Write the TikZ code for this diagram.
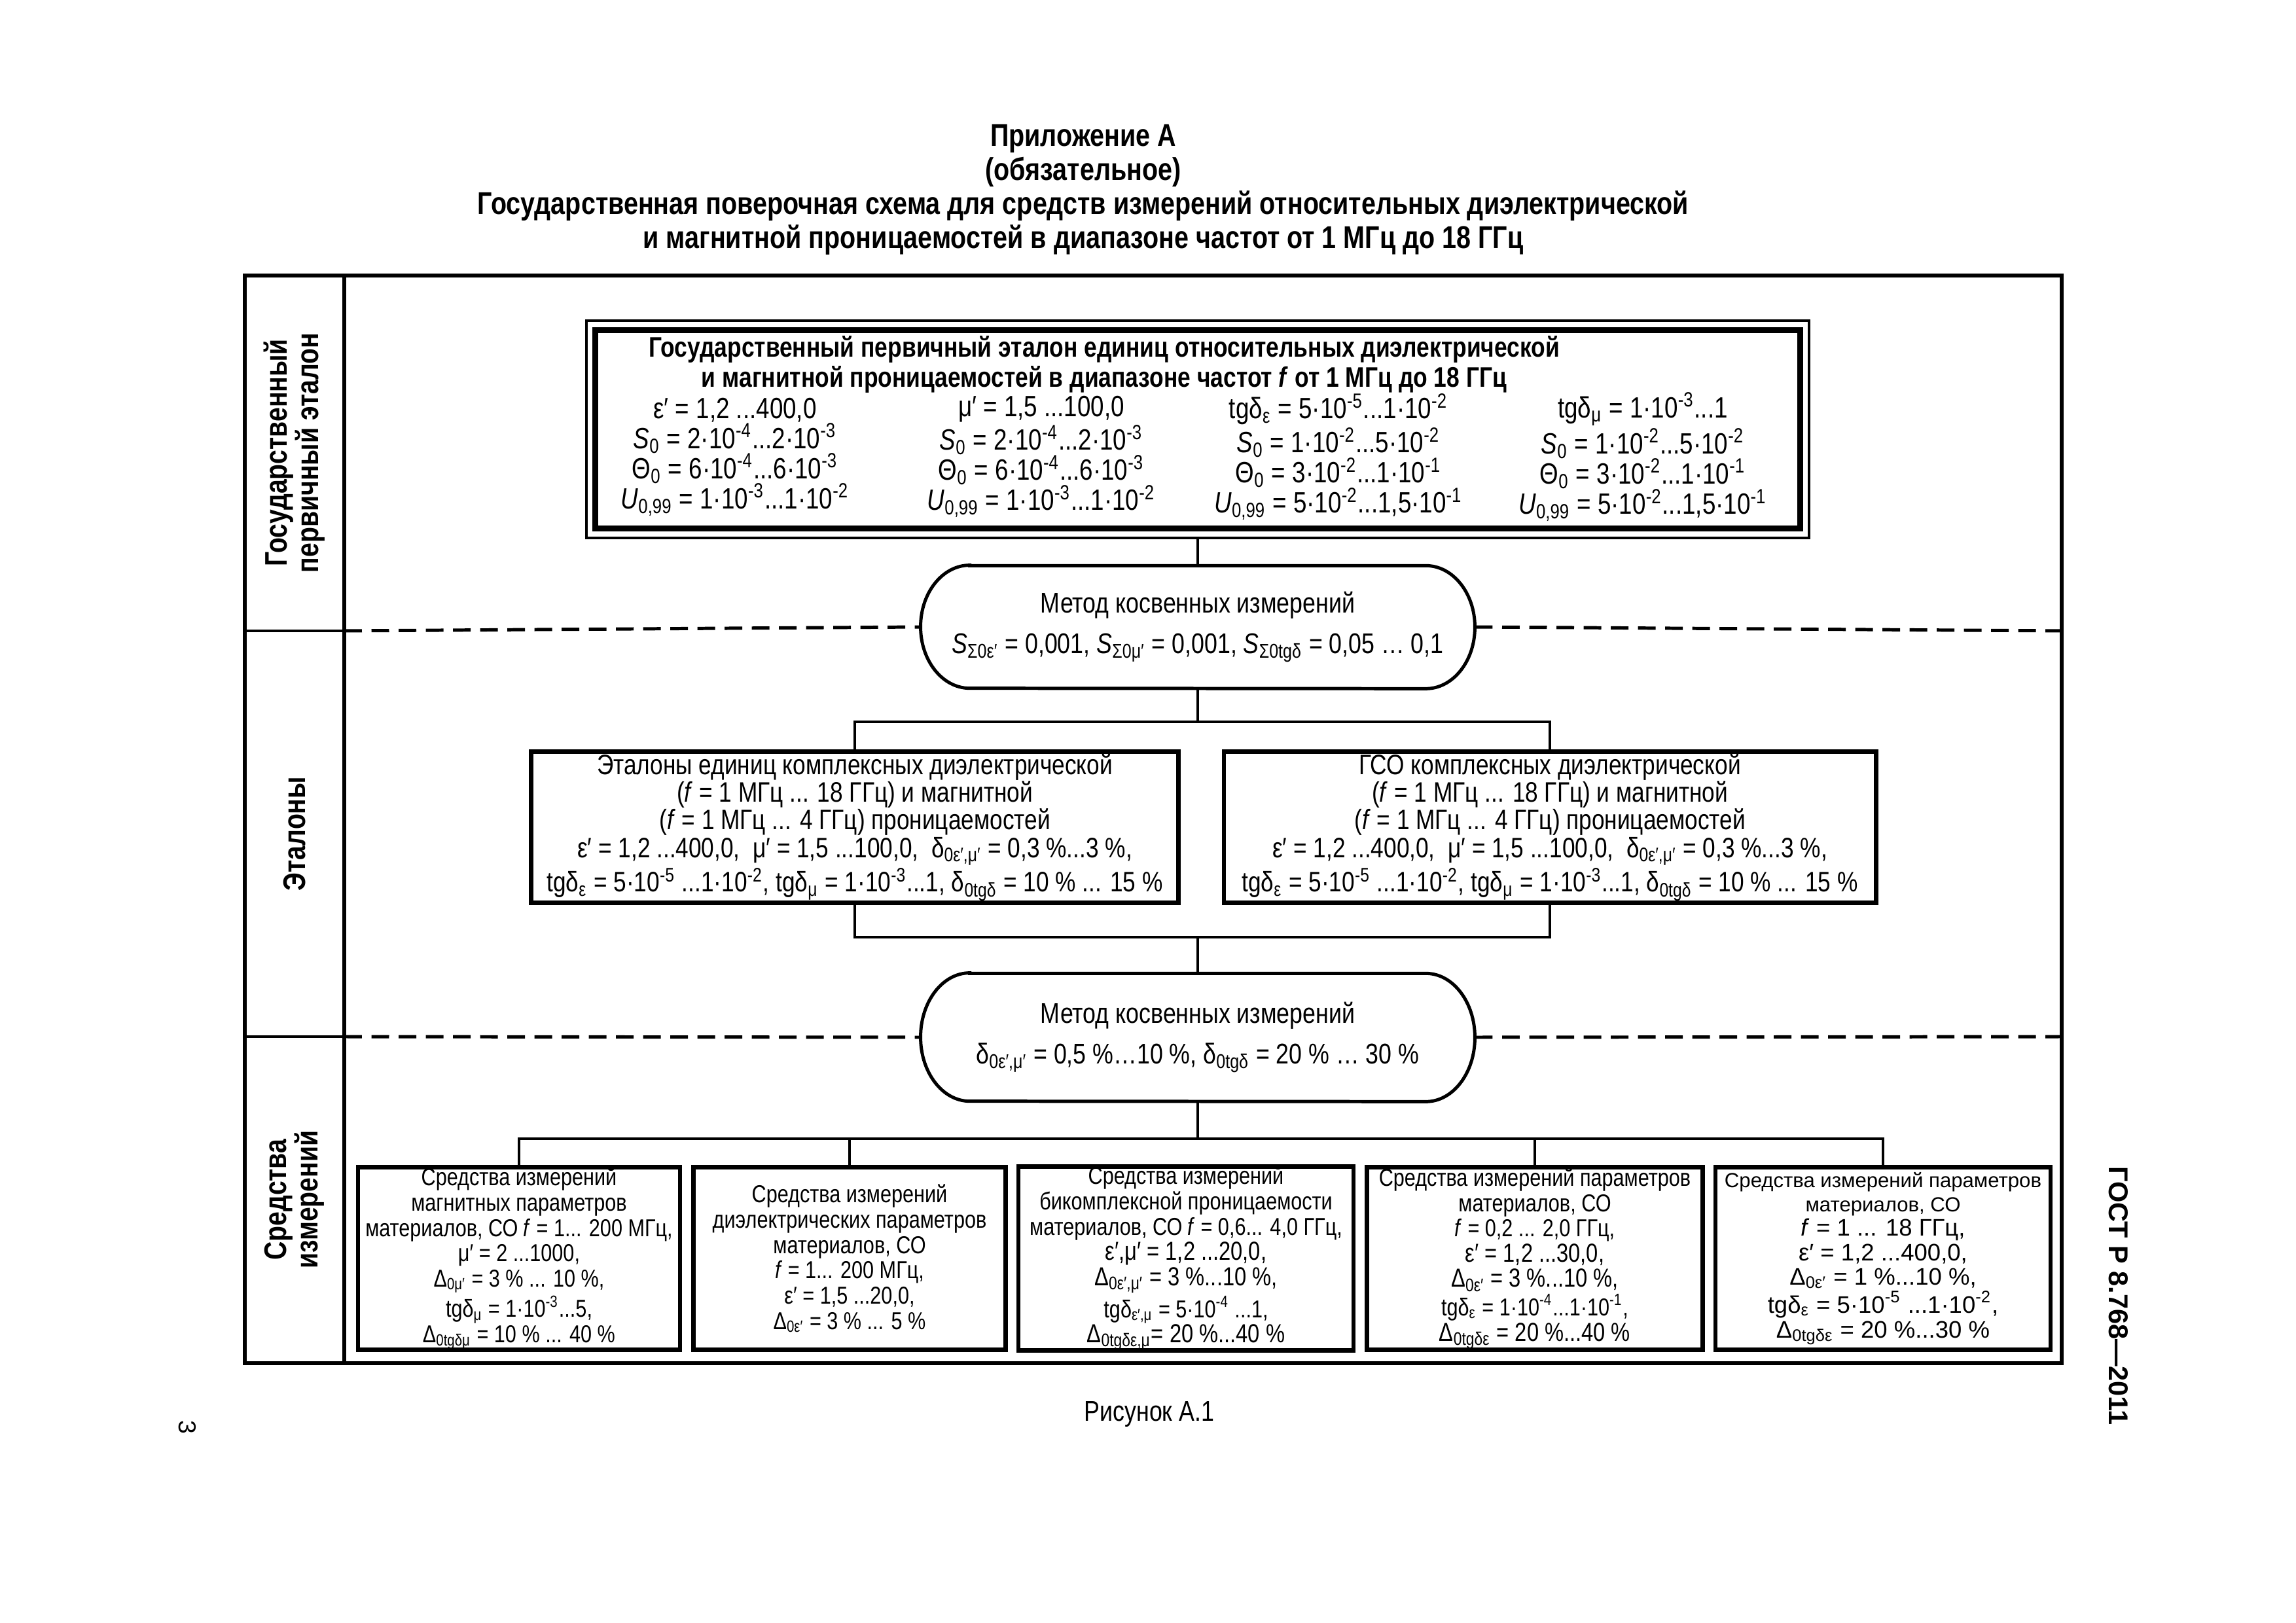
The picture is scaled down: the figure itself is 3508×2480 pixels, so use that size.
\documentclass[tikz,border=0pt]{standalone}
\usepackage{fontspec}
\setmainfont{Liberation Sans}
\newfontfamily\nar[FakeStretch=0.82]{Liberation Sans}
\usetikzlibrary{calc}
\newcommand\myd[1]{\textsubscript{#1}}
\newcommand\myu[1]{\textsuperscript{#1}}
\newcommand\biglinetxt[1]{{\fontsize{9.6}{9.3}\selectfont #1}}
\def\u{0.24004pt}
\tikzset{
  every node/.style={inner sep=0pt, outer sep=0pt},
  frame/.style={line width=1.6pt},
  sepline/.style={line width=1.1pt},
  dashline/.style={line width=1.2pt, dash pattern=on 6.5pt off 3.5pt},
  conn/.style={line width=1.1pt},
  stadline/.style={line width=1.2pt},
  titletext/.style={align=center, font={\nar\bfseries\fontsize{11.6}{12.5}\selectfont}},
  headtext/.style={align=center, font={\nar\bfseries\fontsize{10.4}{9.7}\selectfont}},
  coltext/.style={align=center, font={\nar\fontsize{10.8}{11.1}\selectfont}},
  stadtext/.style={align=center, font={\nar\fontsize{10.5}{15}\selectfont}},
  midbox/.style={draw, line width=1.6pt, align=center, minimum height=232*\u, font={\nar\fontsize{10.35}{10.2}\selectfont}},
  lowbox/.style={draw, line width=1.6pt, align=center, minimum height=280*\u, font={\nar\fontsize{9}{9.3}\selectfont}},
  sidelabel/.style={align=center, rotate=90, font={\nar\bfseries\fontsize{11.5}{11.5}\selectfont}},
}
\begin{document}
\begin{tikzpicture}[x=0.0846667mm, y=-0.0846667mm]
\useasboundingbox (0,0) rectangle (3508,2480);
% title
\node[titletext] (title) at (1655,290) {Приложение А\\(обязательное)\\Государственная поверочная схема для средств измерений относительных диэлектрической\\и магнитной проницаемостей в диапазоне частот от 1 МГц до 18 ГГц};
% frame
\draw[frame] (374,421) rectangle (3150,2083);
\draw[frame] (526,421) -- (526,2083);
% side labels
\node[sidelabel] (l1) at (450,692) {Государственный\\первичный эталон};
\node[sidelabel] (l2) at (450,1274) {Эталоны};
\node[sidelabel] (l3) at (450,1833) {Средства\\измерений};
% primary standard
\node[draw, line width=0.8pt, minimum width=1875*\u, minimum height=333*\u] (P) at (1830,656) {};
\draw[line width=2.2pt] ($(P.north west)+(14,14)$) rectangle ($(P.south east)+(-14,-14)$);
\node[headtext] (H) at (1687,557) {Государственный первичный эталон единиц относительных диэлектрической\\и магнитной проницаемостей в диапазоне частот \textit{f} от 1 МГц до 18 ГГц};
\node[coltext] (c1) at (1123,698) {ε′ = 1,2 ...400,0\\\textit{S}\myd{0} = 2·10\myu{-4}...2·10\myu{-3}\\Θ\myd{0} = 6·10\myu{-4}...6·10\myu{-3}\\\textit{U}\myd{0,99} = 1·10\myu{-3}...1·10\myu{-2}};
\node[coltext] (c2) at (1591,698) {μ′ = 1,5 ...100,0\\\textit{S}\myd{0} = 2·10\myu{-4}...2·10\myu{-3}\\Θ\myd{0} = 6·10\myu{-4}...6·10\myu{-3}\\\textit{U}\myd{0,99} = 1·10\myu{-3}...1·10\myu{-2}};
\node[coltext] (c3) at (2045,698) {tgδ\myd{ε} = 5·10\myu{-5}...1·10\myu{-2}\\\textit{S}\myd{0} = 1·10\myu{-2}...5·10\myu{-2}\\Θ\myd{0} = 3·10\myu{-2}...1·10\myu{-1}\\\textit{U}\myd{0,99} = 5·10\myu{-2}...1,5·10\myu{-1}};
\node[coltext] (c4) at (2510,698) {tgδ\myd{μ} = 1·10\myu{-3}...1\\\textit{S}\myd{0} = 1·10\myu{-2}...5·10\myu{-2}\\Θ\myd{0} = 3·10\myu{-2}...1·10\myu{-1}\\\textit{U}\myd{0,99} = 5·10\myu{-2}...1,5·10\myu{-1}};
% method 1
\node[stadtext, minimum width=850*\u, minimum height=188*\u] (m1) at (1830,958) {Метод косвенных измерений\\\textit{S}\myd{Σ0ε′} = 0,001, \textit{S}\myd{Σ0μ′} = 0,001, \textit{S}\myd{Σ0tgδ} = 0,05 … 0,1};
\draw[stadline] ($(m1.north west)+(75,0)$) -- ($(m1.north east)+(-75,0)$) arc[start angle=-90, end angle=90, x radius=75, y radius=94] -- ($(m1.south west)+(75,0)$) arc[start angle=90, end angle=270, x radius=75, y radius=94] -- cycle;
% standards
\node[midbox, minimum width=993*\u] (e1) at (1306,1264) {Эталоны единиц комплексных диэлектрической\\(\textit{f} = 1 МГц ... 18 ГГц) и магнитной\\(\textit{f} = 1 МГц ... 4 ГГц) проницаемостей\\ε′ = 1,2 ...400,0, \ μ′ = 1,5 ...100,0, \ δ\myd{0ε′,μ′} = 0,3 \%...3 \%,\\tgδ\myd{ε} = 5·10\myu{-5} ...1·10\myu{-2}, tgδ\myd{μ} = 1·10\myu{-3}...1, δ\myd{0tgδ} = 10 \% ... 15 \%};
\node[midbox, minimum width=1000*\u] (e2) at (2368,1264) {ГСО комплексных диэлектрической\\(\textit{f} = 1 МГц ... 18 ГГц) и магнитной\\(\textit{f} = 1 МГц ... 4 ГГц) проницаемостей\\ε′ = 1,2 ...400,0, \ μ′ = 1,5 ...100,0, \ δ\myd{0ε′,μ′} = 0,3 \%...3 \%,\\tgδ\myd{ε} = 5·10\myu{-5} ...1·10\myu{-2}, tgδ\myd{μ} = 1·10\myu{-3}...1, δ\myd{0tgδ} = 10 \% ... 15 \%};
% method 2
\node[stadtext, minimum width=850*\u, minimum height=196*\u] (m2) at (1830,1585) {Метод косвенных измерений\\δ\myd{0ε′,μ′} = 0,5 \%…10 \%, δ\myd{0tgδ} = 20 \% … 30 \%};
\draw[stadline] ($(m2.north west)+(75,0)$) -- ($(m2.north east)+(-75,0)$) arc[start angle=-90, end angle=90, x radius=75, y radius=98] -- ($(m2.south west)+(75,0)$) arc[start angle=90, end angle=270, x radius=75, y radius=98] -- cycle;
% measuring instruments
\node[lowbox, minimum width=494*\u] (s1) at (793,1923) {Средства измерений\\магнитных параметров\\материалов, СО \textit{f} = 1... 200 МГц,\\μ′ = 2 ...1000,\\Δ\myd{0μ′} = 3 \% ... 10 \%,\\tgδ\myd{μ} = 1·10\myu{-3}...5,\\Δ\myd{0tgδμ} = 10 \% ... 40 \%};
\node[lowbox, minimum width=479*\u] (s2) at (1298,1923) {Средства измерений\\диэлектрических параметров\\материалов, СО\\\textit{f} = 1... 200 МГц,\\ε′ = 1,5 ...20,0,\\Δ\myd{0ε′} = 3 \% ... 5 \%};
\node[lowbox, minimum width=514*\u] (s3) at (1812,1923) {Средства измерений\\бикомплексной проницаемости\\материалов, СО \textit{f} = 0,6... 4,0 ГГц,\\\biglinetxt{ε′,μ′ = 1,2 ...20,0,}\\\biglinetxt{Δ\myd{0ε′,μ′} = 3 \%...10 \%,}\\tgδ\myd{ε′,μ} = 5·10\myu{-4} ...1,\\\biglinetxt{Δ\myd{0tgδε,μ}= 20 \%...40 \%}};
\node[lowbox, minimum width=515*\u] (s4) at (2345,1923) {Средства измерений параметров\\материалов, СО\\\textit{f} = 0,2 ... 2,0 ГГц,\\\biglinetxt{ε′ = 1,2 ...30,0,}\\\biglinetxt{Δ\myd{0ε′} = 3 \%...10 \%,}\\tgδ\myd{ε} = 1·10\myu{-4}...1·10\myu{-1},\\\biglinetxt{Δ\myd{0tgδε} = 20 \%...40 \%}};
\node[lowbox, minimum width=514*\u, font={\fontsize{7.5}{9}\selectfont}] (s5) at (2877,1923) {Средства измерений параметров\\материалов, СО\\{\fontsize{8.8}{9}\selectfont \textit{f} = 1 ... 18 ГГц,}\\{\fontsize{8.8}{9}\selectfont ε′ = 1,2 ...400,0,}\\{\fontsize{8.8}{9}\selectfont Δ\myd{0ε′} = 1 \%...10 \%,}\\{\fontsize{8.8}{9}\selectfont tgδ\myd{ε} = 5·10\myu{-5} ...1·10\myu{-2},}\\{\fontsize{8.8}{9}\selectfont Δ\myd{0tgδε} = 20 \%...30 \%}};
% separators
\coordinate (L1) at (526,964);
\coordinate (R1) at (3150,964);
\coordinate (L2) at (526,1584);
\coordinate (R2) at (3150,1584);
\draw[sepline] (374,964) -- (L1);
\draw[sepline] (374,1584) -- (L2);
\draw[dashline] (L1) -- (m1.west);
\draw[dashline] (m1.east) -- (R1);
\draw[dashline] (L2) -- (m2.west);
\draw[dashline] (m2.east) -- (R2);
% connectors
\coordinate (b1) at (1830,1103);
\coordinate (b2) at (1830,1432);
\coordinate (b3) at (1830,1740);
\draw[conn] (P.south) -- (m1.north);
\draw[conn] (m1.south) -- (b1);
\draw[conn] (e1.north) -- (e1.north |- b1) -- (e2.north |- b1) -- (e2.north);
\draw[conn] (e1.south) -- (e1.south |- b2) -- (e2.south |- b2) -- (e2.south);
\draw[conn] (b2) -- (m2.north);
\draw[conn] (m2.south) -- (b3);
\draw[conn] (s1.north) -- (s1.north |- b3) -- (s5.north |- b3) -- (s5.north);
\draw[conn] (s2.north) -- (s2.north |- b3);
\draw[conn] (s4.north) -- (s4.north |- b3);
% margins
\node[rotate=-90, font={\bfseries\fontsize{10}{10}\selectfont}] (gost) at (3237,1980) {ГОСТ Р 8.768—2011};
\node[rotate=-90, font={\fontsize{9}{9}\selectfont}] (page) at (286,2181) {3};
\node[font={\nar\fontsize{10.5}{10.5}\selectfont}] (fig) at (1756,2161) {Рисунок А.1};
\end{tikzpicture}
\end{document}
